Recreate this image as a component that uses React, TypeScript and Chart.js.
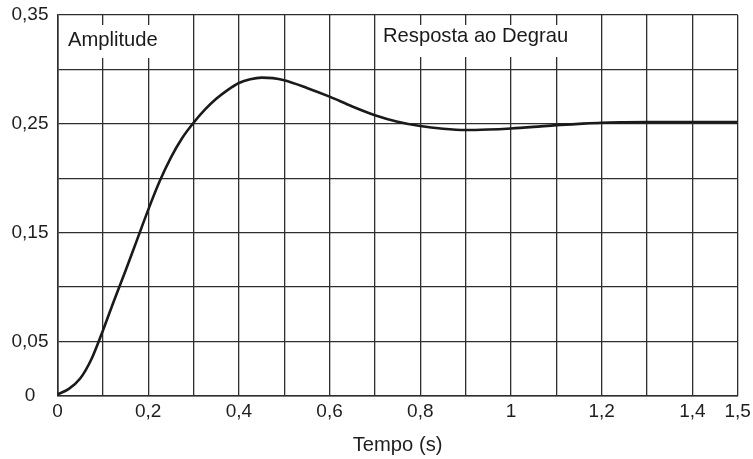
import React, { useEffect, useRef } from "react";
import { Chart, registerables } from "chart.js";

Chart.register(...registerables);

const tempo: number[] = [0, 0.025, 0.05, 0.075, 0.1, 0.125, 0.15, 0.175, 0.2, 0.225, 0.25, 0.275, 0.3, 0.325, 0.35, 0.375, 0.4, 0.425, 0.45, 0.475, 0.5, 0.55, 0.6, 0.65, 0.7, 0.75, 0.8, 0.85, 0.9, 0.95, 1.0, 1.05, 1.1, 1.15, 1.2, 1.25, 1.3, 1.4, 1.5];
const amplitude: number[] = [0.0015, 0.0065, 0.016, 0.034, 0.060, 0.088, 0.115, 0.143, 0.171, 0.197, 0.219, 0.237, 0.251, 0.263, 0.273, 0.281, 0.2875, 0.291, 0.2925, 0.292, 0.290, 0.283, 0.275, 0.266, 0.258, 0.252, 0.248, 0.2455, 0.2443, 0.2448, 0.2458, 0.2472, 0.2488, 0.2500, 0.2510, 0.2514, 0.2516, 0.2516, 0.2516];

const xLabeled: number[] = [0, 0.2, 0.4, 0.6, 0.8, 1, 1.2, 1.4, 1.5];
const yLabeled: number[] = [0, 0.05, 0.15, 0.25, 0.35];

const yAxisTitle = "Amplitude";
const chartTitle = "Resposta ao Degrau";
const xAxisTitle = "Tempo (s)";

const fmt = (v: number) => {
  const r = Math.round(v * 100) / 100;
  return String(r).replace(".", ",");
};

const FONT = "'Liberation Sans', Arial, Helvetica, sans-serif";

const labelPlugin = {
  id: "innerLabels",
  beforeDatasetsDraw(chart: any) {
    const ctx = chart.ctx as CanvasRenderingContext2D;
    ctx.save();
    ctx.fillStyle = "#ffffff";
    ctx.fillRect(62, 25, 103, 33);
    ctx.fillRect(378, 25, 217, 32);
    ctx.fillStyle = "#1a1a1a";
    ctx.font = `20.2px ${FONT}`;
    ctx.textBaseline = "middle";
    ctx.textAlign = "left";
    ctx.fillText(yAxisTitle, 68, 40);
    ctx.fillText(chartTitle, 383, 36.5);
    ctx.restore();
  },
};

export default function App() {
  const ref = useRef<HTMLCanvasElement | null>(null);
  useEffect(() => {
    document.body.style.margin = "0";
    document.body.style.overflow = "hidden";
    const canvas = ref.current;
    if (!canvas) return;
    const data = tempo.map((t, i) => ({ x: t, y: amplitude[i] }));
    const chart = new Chart(canvas, {
      type: "line",
      data: {
        datasets: [
          {
            data,
            borderColor: "#1a1a1a",
            borderWidth: 2.6,
            pointRadius: 0,
            cubicInterpolationMode: "monotone",
            fill: false,
          },
        ],
      },
      options: {
        animation: false,
        responsive: false,
        devicePixelRatio: 1,
        layout: { padding: { top: 15, right: 15.3, left: 0, bottom: 0 } },
        plugins: { legend: { display: false }, tooltip: { enabled: false }, title: { display: false } },
        scales: {
          x: {
            type: "linear",
            min: 0,
            max: 1.5,
            afterFit: (s: any) => {
              s.height = 63;
              s.paddingLeft = 0;
              s.paddingRight = 0;
            },
            afterBuildTicks: (s: any) => {
              const ticks = [];
              for (let i = 0; i <= 15; i++) ticks.push({ value: i / 10 });
              s.ticks = ticks;
            },
            grid: { color: "#2e2e2e", lineWidth: 1.3, drawTicks: false },
            border: { color: "#2e2e2e", width: 1.6 },
            ticks: {
              autoSkip: false,
              maxRotation: 0,
              padding: 4,
              color: "#1e1e1e",
              font: { family: FONT, size: 19 },
              callback: (v: any) => {
                const n = Number(v);
                return xLabeled.some((l) => Math.abs(l - n) < 1e-6) ? fmt(n) : "";
              },
            },
            title: {
              display: true,
              text: xAxisTitle,
              color: "#1e1e1e",
              font: { family: FONT, size: 20.2 },
              padding: { top: 0, bottom: 1.5 },
            },
          },
          y: {
            type: "linear",
            min: 0,
            max: 0.35,
            afterFit: (s: any) => {
              s.width = 57.5;
              s.paddingTop = 0;
              s.paddingBottom = 0;
            },
            afterBuildTicks: (s: any) => {
              const ticks = [];
              for (let i = 0; i <= 7; i++) ticks.push({ value: i * 0.05 });
              s.ticks = ticks;
            },
            grid: { color: "#2e2e2e", lineWidth: 1.3, drawTicks: false },
            border: { color: "#2e2e2e", width: 1.6 },
            ticks: {
              autoSkip: false,
              padding: 9,
              crossAlign: "center",
              color: "#1e1e1e",
              font: { family: FONT, size: 19 },
              callback: (v: any) => {
                const n = Number(v);
                return yLabeled.some((l) => Math.abs(l - n) < 1e-6) ? fmt(n) : "";
              },
            },
          },
        },
      },
      plugins: [labelPlugin],
    } as any);
    return () => chart.destroy();
  }, []);
  return (
    <div style={{ width: 753, height: 459, position: "relative", background: "#fff" }}>
      <canvas ref={ref} width={753} height={459} style={{ width: 753, height: 459, display: "block" }} />
    </div>
  );
}
